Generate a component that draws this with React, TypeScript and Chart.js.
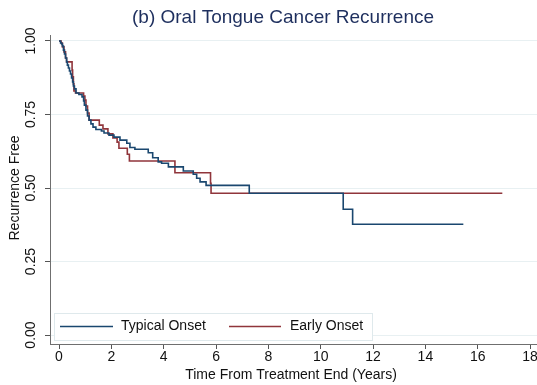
import React, { useEffect, useRef } from "react";
import { Chart, registerables } from "chart.js";

Chart.register(...registerables);

const typicalTimes = [0, 0.06, 0.1, 0.13, 0.17, 0.21, 0.25, 0.29, 0.32, 0.36, 0.4, 0.44, 0.48, 0.52, 0.55, 0.59, 0.65, 0.76, 0.88, 0.94, 0.97, 1.03, 1.09, 1.15, 1.22, 1.3, 1.41, 1.62, 1.72, 1.91, 2.1, 2.33, 2.59, 2.71, 2.9, 3.41, 3.58, 3.79, 3.92, 4.18, 4.75, 5.13, 5.26, 5.39, 5.62, 7.27, 10.86, 11.22, 15.45];
const typicalSurvival = [1, 0.993, 0.99, 0.983, 0.969, 0.956, 0.942, 0.929, 0.918, 0.908, 0.898, 0.888, 0.874, 0.861, 0.847, 0.837, 0.823, 0.818, 0.81, 0.796, 0.782, 0.765, 0.745, 0.731, 0.718, 0.707, 0.699, 0.694, 0.687, 0.68, 0.673, 0.663, 0.652, 0.638, 0.632, 0.62, 0.603, 0.589, 0.584, 0.572, 0.558, 0.547, 0.533, 0.521, 0.509, 0.482, 0.4275, 0.3765, 0.3765];

const earlyTimes = [0, 0.08, 0.13, 0.19, 0.25, 0.29, 0.5, 0.52, 0.55, 0.57, 0.63, 0.94, 0.99, 1.03, 1.09, 1.15, 1.54, 1.68, 1.87, 2.06, 2.22, 2.29, 2.61, 2.69, 4.43, 5.79, 5.81, 16.94];
const earlySurvival = [1, 0.993, 0.98, 0.963, 0.942, 0.929, 0.901, 0.878, 0.854, 0.83, 0.823, 0.813, 0.799, 0.779, 0.755, 0.731, 0.714, 0.701, 0.684, 0.67, 0.656, 0.635, 0.615, 0.592, 0.552, 0.516, 0.482, 0.482];

const xTickValues = [0, 2, 4, 6, 8, 10, 12, 14, 16, 18];
const xTickLabels = ["0", "2", "4", "6", "8", "10", "12", "14", "16", "18"];
const yTickValues = [0, 0.25, 0.5, 0.75, 1];
const yTickLabels = ["0.00", "0.25", "0.50", "0.75", "1.00"];
const seriesNames = ["Typical Onset", "Early Onset"];
const seriesColors = ["#1a476f", "#90353b"];
const titleText = "(b) Oral Tongue Cancer Recurrence";
const xTitle = "Time From Treatment End (Years)";
const yTitle = "Recurrence Free";

const FONT = '"Liberation Sans", Arial, sans-serif';

const overlayPlugin = {
  id: "overlay",
  afterDraw(chart: any) {
    const ctx = chart.ctx as CanvasRenderingContext2D;
    const xs = chart.scales.x;
    const ys = chart.scales.y;
    ctx.save();
    // title
    ctx.fillStyle = "#1e2f5e";
    ctx.font = `19px ${FONT}`;
    ctx.textAlign = "center";
    ctx.textBaseline = "middle";
    ctx.fillText(titleText, 283, 18);

    // x tick labels
    ctx.fillStyle = "#111";
    ctx.font = `14px ${FONT}`;
    ctx.textAlign = "center";
    ctx.textBaseline = "middle";
    xTickValues.forEach((v, i) => {
      ctx.fillText(xTickLabels[i], xs.getPixelForValue(v), 357);
    });
    // x title
    ctx.fillText(xTitle, 291, 375);

    // y tick labels rotated
    yTickValues.forEach((v, i) => {
      const py = ys.getPixelForValue(v);
      ctx.save();
      ctx.translate(31, py);
      ctx.rotate(-Math.PI / 2);
      ctx.fillText(yTickLabels[i], 0, 0);
      ctx.restore();
    });
    // y title
    ctx.save();
    ctx.translate(15, (ys.getPixelForValue(0) + ys.getPixelForValue(1)) / 2);
    ctx.rotate(-Math.PI / 2);
    ctx.fillText(yTitle, 0, 0);
    ctx.restore();

    // legend box
    const bx = 54, by = 313, bw = 318, bh = 27;
    ctx.fillStyle = "#ffffff";
    ctx.fillRect(bx, by, bw, bh);
    ctx.strokeStyle = "#dfe9ec";
    ctx.lineWidth = 1;
    ctx.strokeRect(bx + 0.5, by + 0.5, bw, bh);
    const ly = by + 13.5;
    const items = [
      { x1: 60, x2: 113, tx: 121 },
      { x1: 229, x2: 281, tx: 290 },
    ];
    items.forEach((it, i) => {
      ctx.strokeStyle = seriesColors[i];
      ctx.lineWidth = 1.5;
      ctx.beginPath();
      ctx.moveTo(it.x1, ly);
      ctx.lineTo(it.x2, ly);
      ctx.stroke();
      ctx.fillStyle = "#111";
      ctx.font = `14px ${FONT}`;
      ctx.textAlign = "left";
      ctx.textBaseline = "middle";
      ctx.fillText(seriesNames[i], it.tx, ly);
    });
    ctx.restore();
  },
};

export default function App() {
  const ref = useRef<HTMLCanvasElement | null>(null);
  useEffect(() => {
    document.body.style.margin = "0";
    const canvas = ref.current;
    if (!canvas) return;
    const chart = new Chart(canvas, {
      type: "line",
      data: {
        datasets: [
          {
            label: seriesNames[0],
            data: typicalTimes.map((t, i) => ({ x: t, y: typicalSurvival[i] })),
            borderColor: seriesColors[0],
            borderWidth: 1.6,
            pointRadius: 0,
            stepped: true,
            fill: false,
          },
          {
            label: seriesNames[1],
            data: earlyTimes.map((t, i) => ({ x: t, y: earlySurvival[i] })),
            borderColor: seriesColors[1],
            borderWidth: 1.6,
            pointRadius: 0,
            stepped: true,
            fill: false,
          },
        ],
      },
      options: {
        animation: false,
        responsive: false,
        devicePixelRatio: 1,
        layout: { padding: { top: 35, left: 0, right: 0, bottom: 0 } },
        plugins: {
          legend: { display: false },
          title: { display: false },
          tooltip: { enabled: false },
        },
        scales: {
          x: {
            type: "linear",
            min: -0.344,
            max: 18.265,
            afterBuildTicks: (s: any) => {
              s.ticks = xTickValues.map((v) => ({ value: v }));
            },
            afterFit: (s: any) => {
              s.height = 41;
            },
            ticks: { display: false },
            grid: {
              drawOnChartArea: false,
              drawTicks: true,
              tickLength: 5,
              tickColor: "#555",
            },
            border: { display: true, color: "#6f6f6f", width: 1 },
          },
          y: {
            type: "linear",
            min: -0.0306,
            max: 1.0204,
            afterBuildTicks: (s: any) => {
              s.ticks = yTickValues.map((v) => ({ value: v }));
            },
            afterFit: (s: any) => {
              s.width = 50;
            },
            ticks: { display: false },
            grid: {
              drawOnChartArea: true,
              color: "#e8f0f2",
              drawTicks: true,
              tickLength: 5,
              tickColor: "#555",
            },
            border: { display: true, color: "#6f6f6f", width: 1 },
          },
        },
      },
      plugins: [overlayPlugin],
    });
    return () => chart.destroy();
  }, []);
  return (
    <div style={{ width: 537, height: 385 }}>
      <canvas ref={ref} width={537} height={385} style={{ display: "block" }} />
    </div>
  );
}
